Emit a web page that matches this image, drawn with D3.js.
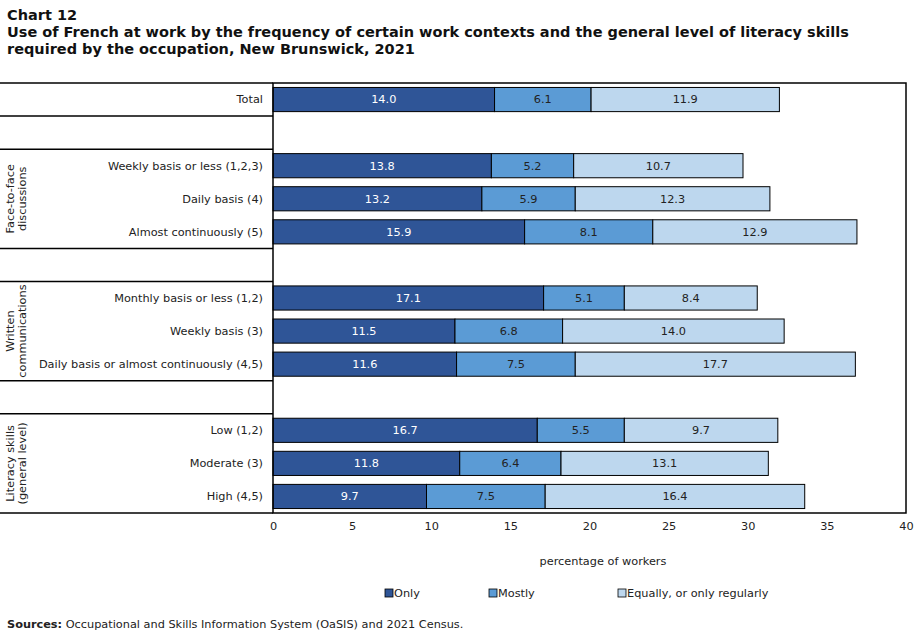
<!DOCTYPE html>
<html>
<head>
<meta charset="utf-8">
<script src="https://cdn.jsdelivr.net/npm/d3@7"></script>
<style>
  body { margin: 0; background: #fff; }
  text { font-family: Verdana, "DejaVu Sans", sans-serif; fill: #222; }
</style>
</head>
<body>
<svg id="chart" width="921" height="639"></svg>
<script>
// rows from top to bottom, "" marks an empty spacer row
const rowLabels = ["Total", "",
  "Weekly basis or less (1,2,3)", "Daily basis (4)", "Almost continuously (5)", "",
  "Monthly basis or less (1,2)", "Weekly basis (3)", "Daily basis or almost continuously (4,5)", "",
  "Low (1,2)", "Moderate (3)", "High (4,5)"];
const only    = [14.0, null, 13.8, 13.2, 15.9, null, 17.1, 11.5, 11.6, null, 16.7, 11.8, 9.7];
const mostly  = [6.1, null, 5.2, 5.9, 8.1, null, 5.1, 6.8, 7.5, null, 5.5, 6.4, 7.5];
const equally = [11.9, null, 10.7, 12.3, 12.9, null, 8.4, 14.0, 17.7, null, 9.7, 13.1, 16.4];
const seriesNames = ["Only", "Mostly", "Equally, or only regularly"];
const colors = ["#2f5597", "#5b9bd5", "#bdd7ee"];
const groupNames = [["Face-to-face", "discussions"], ["Written", "communications"], ["Literacy skills", "(general level)"]];
const groupRows = [[2, 4], [6, 8], [10, 12]];
const xTicks = [0, 5, 10, 15, 20, 25, 30, 35, 40];

const svg = d3.select("#chart");
const plotLeft = 273, plotRight = 906, plotTop = 83, plotBottom = 513;
const fs = "11.3px";

const x = d3.scaleLinear().domain([0, 40]).range([plotLeft, plotRight]);
const slot = d3.scaleBand().domain(d3.range(rowLabels.length)).range([plotTop, plotBottom]);
const y = d3.scaleBand().domain(d3.range(rowLabels.length)).range([plotTop, plotBottom]).paddingInner(0.27).paddingOuter(0.135);

// titles
const titleLines = ["Chart 12",
  "Use of French at work by the frequency of certain work contexts and the general level of literacy skills",
  "required by the occupation, New Brunswick, 2021"];
svg.selectAll("text.title").data(titleLines).join("text").attr("class", "title")
  .attr("x", 7).attr("y", (d, i) => 20 + i * 17)
  .style("font-size", "14.5px").style("font-weight", "bold").style("fill", "#111")
  .text(d => d);

// stacked data
const table = rowLabels.map((label, i) => ({ i, label, Only: only[i], Mostly: mostly[i], "Equally, or only regularly": equally[i] }))
  .filter(d => d.Only != null);
const stacked = d3.stack().keys(seriesNames)(table);

svg.selectAll("g.layer").data(stacked).join("g").attr("class", "layer")
  .each(function(s, k) {
    const g = d3.select(this);
    g.selectAll("rect").data(s).join("rect")
      .attr("x", d => x(d[0]))
      .attr("y", d => y(d.data.i))
      .attr("width", d => x(d[1]) - x(d[0]))
      .attr("height", y.bandwidth())
      .attr("fill", colors[k])
      .attr("stroke", "#000").attr("stroke-width", 1);
    g.selectAll("text").data(s).join("text")
      .attr("x", d => (x(d[0]) + x(d[1])) / 2)
      .attr("y", d => y(d.data.i) + y.bandwidth() / 2)
      .attr("dy", "0.35em")
      .attr("text-anchor", "middle")
      .style("font-size", fs)
      .style("fill", k === 0 ? "#fff" : "#222")
      .text(d => d3.format(".1f")(d[1] - d[0]));
  });

// frame
svg.append("rect").attr("x", plotLeft).attr("y", plotTop)
  .attr("width", plotRight - plotLeft).attr("height", plotBottom - plotTop)
  .attr("fill", "none").attr("stroke", "#000").attr("stroke-width", 1.5);

// left side separators
const seps = [0, 1, 2, 5, 6, 9, 10, 13];
const sepY = d => d === rowLabels.length ? plotBottom : slot(d);
svg.selectAll("line.sep").data(seps).join("line").attr("class", "sep")
  .attr("x1", 0).attr("x2", plotLeft)
  .attr("y1", sepY).attr("y2", sepY)
  .attr("stroke", "#000").attr("stroke-width", 1.5);

// row labels
svg.selectAll("text.row").data(table).join("text").attr("class", "row")
  .attr("x", 263)
  .attr("y", d => slot(d.i) + slot.bandwidth() / 2)
  .attr("dy", "0.35em")
  .attr("text-anchor", "end")
  .style("font-size", fs)
  .text(d => d.label);

// group labels (rotated)
groupNames.forEach((lines, g) => {
  const cy = (slot(groupRows[g][0]) + slot(groupRows[g][1]) + slot.bandwidth()) / 2;
  lines.forEach((t, l) => {
    svg.append("text")
      .attr("transform", `translate(${10.5 + l * 12},${cy}) rotate(-90)`)
      .attr("dy", "0.35em")
      .attr("text-anchor", "middle")
      .style("font-size", fs)
      .text(t);
  });
});

// x axis
const axis = svg.append("g").attr("transform", `translate(0,${plotBottom})`)
  .call(d3.axisBottom(x).tickValues(xTicks).tickSize(0).tickPadding(9));
axis.select(".domain").remove();
axis.selectAll("text").style("font-size", fs).style("font-family", "Verdana, 'DejaVu Sans', sans-serif").attr("fill", "#222");

svg.append("text").attr("x", 603).attr("y", 565)
  .attr("text-anchor", "middle").style("font-size", fs).text("percentage of workers");

// legend
const legendX = [385, 489, 618];
const legend = svg.selectAll("g.legend").data(seriesNames).join("g").attr("class", "legend")
  .attr("transform", (d, i) => `translate(${legendX[i]},593)`);
legend.append("rect").attr("x", 0).attr("y", -4).attr("width", 8).attr("height", 8)
  .attr("fill", (d, i) => colors[i]).attr("stroke", "#000").attr("stroke-width", 0.8);
legend.append("text").attr("x", 9).attr("dy", "0.35em").style("font-size", fs).text(d => d);

// source
const src = svg.append("text").attr("x", 7).attr("y", 628).style("font-size", fs);
src.append("tspan").style("font-weight", "bold").text("Sources:");
src.append("tspan").text(" Occupational and Skills Information System (OaSIS) and 2021 Census.");
</script>
</body>
</html>
